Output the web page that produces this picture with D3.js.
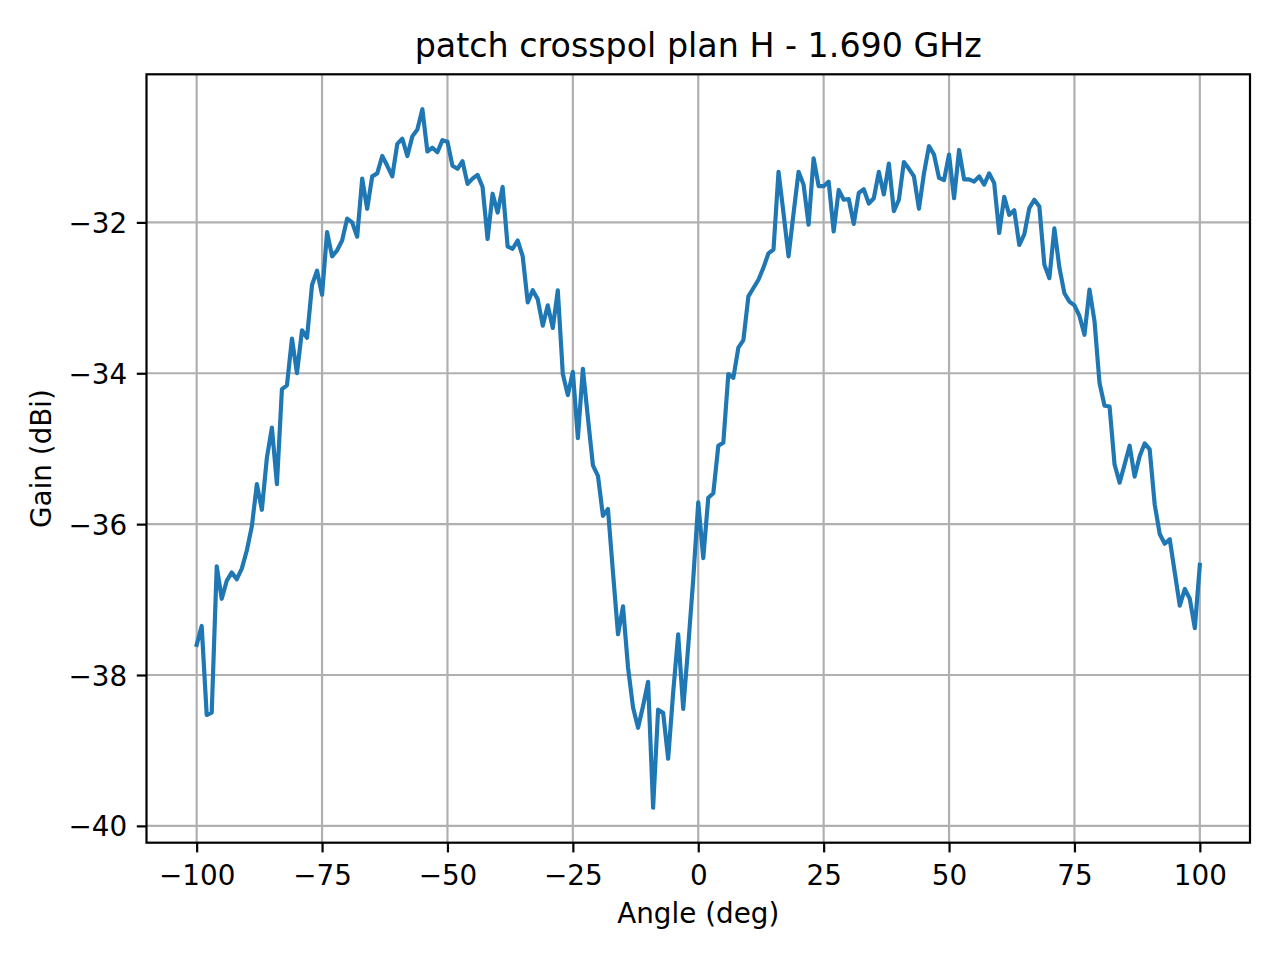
<!DOCTYPE html>
<html>
<head>
<meta charset="utf-8">
<script src="https://cdn.jsdelivr.net/npm/d3@7/dist/d3.min.js"></script>
<style>
  html, body { margin: 0; padding: 0; background: #fff; }
  svg { display: block; }
  text { font-family: "DejaVu Sans", sans-serif; fill: #000; }
</style>
</head>
<body>
<svg id="chart" width="1280" height="960"></svg>
<script>
// ---- data ----
const title = "patch crosspol plan H - 1.690 GHz";
const xLabel = "Angle (deg)";
const yLabel = "Gain (dBi)";
const angleStart = -100, angleStep = 1;
const gain = [
  -37.60, -37.35, -38.53, -38.50, -36.56, -36.99, -36.75, -36.64, -36.73, -36.59,
  -36.35, -36.03, -35.47, -35.81, -35.12, -34.72, -35.47, -34.21, -34.16, -33.54,
  -34.00, -33.43, -33.53, -32.83, -32.64, -32.96, -32.13, -32.45, -32.37, -32.24,
  -31.95, -32.00, -32.19, -31.42, -31.82, -31.39, -31.35, -31.12, -31.25, -31.39,
  -30.96, -30.89, -31.12, -30.86, -30.77, -30.50, -31.06, -31.01, -31.07, -30.91,
  -30.93, -31.25, -31.29, -31.19, -31.49, -31.42, -31.37, -31.53, -32.22, -31.62,
  -31.87, -31.53, -32.32, -32.35, -32.24, -32.45, -33.06, -32.90, -33.02, -33.37,
  -33.10, -33.40, -32.90, -34.01, -34.29, -33.98, -34.86, -33.94, -34.59, -35.22,
  -35.36, -35.89, -35.80, -36.64, -37.46, -37.09, -37.90, -38.43, -38.70, -38.41,
  -38.09, -39.76, -38.46, -38.50, -39.11, -38.23, -37.46, -38.45, -37.62, -36.73,
  -35.71, -36.45, -35.65, -35.59, -34.96, -34.92, -34.01, -34.06, -33.66, -33.56,
  -32.98, -32.87, -32.76, -32.60, -32.41, -32.36, -31.33, -31.88, -32.45, -31.88,
  -31.33, -31.50, -32.03, -31.15, -31.52, -31.52, -31.46, -32.12, -31.57, -31.70,
  -31.69, -32.02, -31.61, -31.56, -31.75, -31.68, -31.33, -31.63, -31.22, -31.85,
  -31.70, -31.20, -31.29, -31.39, -31.82, -31.35, -30.99, -31.10, -31.41, -31.44,
  -31.10, -31.68, -31.04, -31.43, -31.43, -31.46, -31.39, -31.50, -31.35, -31.48,
  -32.14, -31.66, -31.90, -31.84, -32.30, -32.16, -31.81, -31.70, -31.79, -32.56,
  -32.74, -32.08, -32.60, -32.94, -33.05, -33.10, -33.24, -33.49, -32.89, -33.31,
  -34.13, -34.43, -34.44, -35.21, -35.45, -35.21, -34.96, -35.37, -35.10, -34.93,
  -35.01, -35.74, -36.13, -36.26, -36.20, -36.64, -37.08, -36.86, -36.99, -37.38,
  -36.54
];
const angles = gain.map((_, i) => angleStart + i * angleStep);
const xTicks = [-100, -75, -50, -25, 0, 25, 50, 75, 100];
const yTicks = [-40, -38, -36, -34, -32];

// ---- layout ----
const L = 146.5, R = 1250, T = 74.3, B = 842.7;
const fs = 27.8;
const svg = d3.select("#chart");

const xMin = d3.min(angles), xMax = d3.max(angles);
const yMin = d3.min(gain), yMax = d3.max(gain);
const xm = (xMax - xMin) * 0.05, ym = (yMax - yMin) * 0.05;
const x = d3.scaleLinear().domain([xMin - xm, xMax + xm]).range([L, R]);
const y = d3.scaleLinear().domain([yMin - ym, yMax + ym]).range([B, T]);

// grid
const g = svg.append("g");
g.selectAll("line.gx").data(xTicks).join("line")
  .attr("x1", d => x(d)).attr("x2", d => x(d)).attr("y1", T).attr("y2", B)
  .attr("stroke", "#b0b0b0").attr("stroke-width", 2.2);
g.selectAll("line.gy").data(yTicks).join("line")
  .attr("y1", d => y(d)).attr("y2", d => y(d)).attr("x1", L).attr("x2", R)
  .attr("stroke", "#b0b0b0").attr("stroke-width", 2.2);

// line
const line = d3.line().x((d, i) => x(angles[i])).y(d => y(d));
svg.append("path").datum(gain)
  .attr("d", line).attr("fill", "none")
  .attr("stroke", "#1f77b4").attr("stroke-width", 4.17)
  .attr("stroke-linejoin", "round").attr("stroke-linecap", "square");

// axes
const fmt = d => d < 0 ? "\u2212" + Math.abs(d) : String(d);
const xAxis = d3.axisBottom(x).tickValues(xTicks).tickSize(9.7).tickPadding(12.5).tickFormat(fmt);
const yAxis = d3.axisLeft(y).tickValues(yTicks).tickSize(9.7).tickPadding(9.7).tickFormat(fmt);
const gx = svg.append("g").attr("transform", `translate(0,${B})`).call(xAxis);
const gy = svg.append("g").attr("transform", `translate(${L},0)`).call(yAxis);
[gx, gy].forEach(a => {
  a.select(".domain").remove();
  a.selectAll(".tick line").attr("stroke", "#000").attr("stroke-width", 2.2);
  a.selectAll(".tick text").attr("font-size", fs).attr("font-family", "DejaVu Sans").attr("fill", "#000");
});
gx.selectAll(".tick text").attr("dy", "0.71em");
gy.selectAll(".tick text").attr("dy", "0.36em");

// spines
svg.append("rect").attr("x", L).attr("y", T).attr("width", R - L).attr("height", B - T)
  .attr("fill", "none").attr("stroke", "#000").attr("stroke-width", 2.2);

// labels
svg.append("text").attr("x", (L + R) / 2).attr("y", 57).attr("text-anchor", "middle")
  .attr("font-size", 33.3).text(title);
svg.append("text").attr("x", (L + R) / 2).attr("y", 923).attr("text-anchor", "middle")
  .attr("font-size", fs).text(xLabel);
svg.append("text").attr("transform", `translate(51,${(T + B) / 2}) rotate(-90)`)
  .attr("text-anchor", "middle").attr("font-size", fs).text(yLabel);
</script>
</body>
</html>
